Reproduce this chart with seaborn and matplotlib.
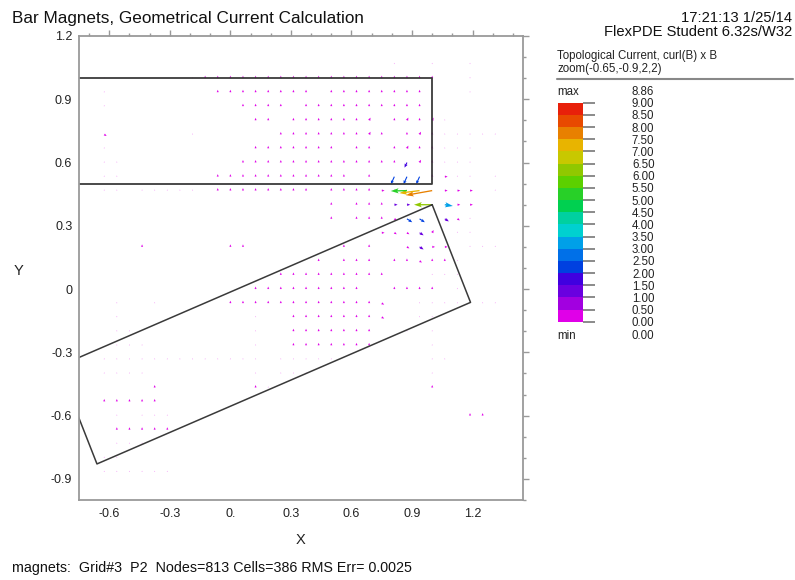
import numpy as np
import pandas as pd
import seaborn as sns
import matplotlib.pyplot as plt
from matplotlib.colors import ListedColormap, BoundaryNorm
from matplotlib.colorbar import ColorbarBase
from matplotlib.lines import Line2D
from matplotlib.ticker import FixedLocator

sns.set_style("white")
plt.rcParams['font.family'] = ['Liberation Sans', 'DejaVu Sans']

# grid columns / rows of the arrow field
col_x = [-0.625, -0.5625, -0.5, -0.4375, -0.375, -0.3125, -0.25, -0.1875, -0.125, -0.0625,
         0.0, 0.0625, 0.125, 0.1875, 0.25, 0.3125, 0.375, 0.4375, 0.5, 0.5625, 0.625,
         0.6875, 0.75, 0.8125, 0.875, 0.9375, 1.0, 1.0625, 1.125, 1.1875, 1.25, 1.3125, 1.375]
row_y = [1.067, 1.0, 0.933, 0.867, 0.8, 0.733, 0.667, 0.6, 0.533, 0.467, 0.4, 0.333, 0.267,
         0.2, 0.133, 0.067, 0.0, -0.067, -0.133, -0.2, -0.267, -0.333, -0.4, -0.467, -0.533,
         -0.6, -0.667, -0.733, -0.8, -0.867]

# one char per column ('_' = no arrow)
field_rows = [
    "_____ _____ _____ _____ ___._ _.__. ___",
    ".____ __.:: ::::: ::::: ::::: ::__. ___",
    ".____ ____: ::::: ::_:: ::::: :___. ___",
    ".____ _____ _:::: _:::: ::::: :____ ___",
    "_____ _____ __::_ ::::: :/_:/ :/.__ ___",
    "d____ __.__ ____: ::::: :/:_: /:... .._",
    ".____ _____ __::: ::::_ ::_:/ ::... ___",
    "..___ _____ _:::: ::::: ::::l /:... ___",
    "..___ ____: ::::: ::::: _:_LL L:-.. _._",
    ".._.. ..._: ::::: ::_:: ::--_ __--- _._",
    "_____ _____ _____ ___:_ :::VV ___-- ___",
    "_____ _____ _____ ___:_ :::dB B_Dd. ___",
    "_____ _____ _____ _____ __-dd D/_.. ___",
    "___:_ _____ ::___ ____: _:__d D--_. .._",
    "_____ _____ _____ __:_: ::_:: d::._ ___",
    "_____ _____ ____: ::::: :::__ _..._ ___",
    "_____ _____ __::: ::::: :__:: ::_._ ___",
    "_.__. _____ ::::: ::::: ::d__ ...._ .._",
    "_.___ _____ __.__ ::::: ::d__ ..___ ___",
    "_..__ _____ __.__ ::::: ::__. _.___ ___",
    "_..._ _____ __.__ ::::: ::___ _.___ ___",
    "..... ..... ..._. ...._ _____ _..__ ___",
    "...._ _____ __._. ..___ _____ _.___ ___",
    "____: _____ __:._ _____ _____ _:___ ___",
    "::::: _____ _____ _____ _____ _____ ___",
    "_._.. .____ _____ _____ _____ ____: :__",
    "_:::: :____ _____ _____ _____ _____ ___",
    "_..._ _____ _____ _____ _____ _____ ___",
    "..___ _____ _____ _____ _____ _____ ___",
    "..... .____ _____ _____ _____ _____ ___",
]

# char -> (u, v, magnitude)
arrow_codes = {
    '.': (0.0, 0.006, 0.1),
    ':': (0.0, 0.012, 0.2),
    '/': (0.007, 0.013, 0.4),
    'd': (0.012, -0.007, 0.4),
    '-': (0.014, 0.0, 0.4),
    'V': (0.016, 0.0, 1.2),
    'D': (0.02, -0.012, 1.4),
    'l': (-0.012, -0.024, 1.8),
    'L': (-0.017, -0.036, 2.2),
    'B': (0.026, -0.016, 2.4),
}

# the strong arrows at the gap between the magnets
big_x = [1.0, 0.9375, 0.875, 1.0, 1.0625]
big_y = [0.467, 0.467, 0.467, 0.4, 0.4]
big_u = [-0.13, -0.10, -0.08, -0.09, 0.04]
big_v = [-0.022, -0.012, -0.002, 0.0, -0.006]
big_m = [7.8, 7.0, 5.4, 6.2, 3.2]

# magnet outlines
upper_x = [-1.0, 1.0, 1.0, -1.0]
upper_y = [1.0, 1.0, 0.5, 0.5]
lower_x = [1.0, 1.19, -0.661, -0.851, 1.0]
lower_y = [0.4, -0.063, -0.829, -0.366, 0.4]

levels = [0.0, 0.5, 1.0, 1.5, 2.0, 2.5, 3.0, 3.5, 4.0, 4.5, 5.0, 5.5, 6.0, 6.5, 7.0, 7.5,
          8.0, 8.5, 9.0]
level_colors = ['#E000E8', '#A200E0', '#6A00E0', '#4000E0', '#0040E0', '#0070E8', '#00A0E8',
                '#00D0D0', '#00D0A0', '#00D050', '#28D028', '#5CD000', '#90C800', '#C8C800',
                '#E8B400', '#E88000', '#E84A00', '#E8200A']

xticks = [-0.6, -0.3, 0.0, 0.3, 0.6, 0.9, 1.2]
xtick_labels = ['-0.6', '-0.3', '0.', '0.3', '0.6', '0.9', '1.2']
yticks = [1.2, 0.9, 0.6, 0.3, 0.0, -0.3, -0.6, -0.9]
ytick_labels = ['1.2', '0.9', '0.6', '0.3', '0', '-0.3', '-0.6', '-0.9']

# build arrow table
recs = []
for y, row in zip(row_y, field_rows):
    row = row.replace(' ', '')
    assert len(row) == len(col_x), (y, len(row))
    for x, c in zip(col_x, row):
        if c == '_':
            continue
        u, v, m = arrow_codes[c]
        recs.append((x, y, u, v, m, 0.45 if c == '.' else 1.0))
df = pd.DataFrame(recs, columns=['x', 'y', 'u', 'v', 'm', 'alpha'])

cmap = ListedColormap(level_colors)
norm = BoundaryNorm(levels, cmap.N)

fig = plt.figure(figsize=(7.95, 5.8), dpi=100)
ax = fig.add_axes([79 / 795, 80 / 580, 444 / 795, 464 / 580])

# magnet outlines
sns.lineplot(x=upper_x, y=upper_y, sort=False, estimator=None, color='#3a3a3a', lw=1.3, ax=ax)
sns.lineplot(x=lower_x, y=lower_y, sort=False, estimator=None, color='#3a3a3a', lw=1.1, ax=ax)

cols = cmap(norm(df['m'].values))
cols[:, 3] = df['alpha'].values
ax.quiver(df['x'], df['y'], df['u'], df['v'], color=cols, angles='xy', scale_units='xy',
          scale=1, units='dots', width=1.1, headwidth=3, headlength=3.5, headaxislength=3,
          minlength=0.5, minshaft=1)
ax.quiver(big_x, big_y, big_u, big_v, color=cmap(norm(np.array(big_m))), angles='xy',
          scale_units='xy', scale=1, units='dots', width=1.3, headwidth=4, headlength=6,
          headaxislength=5)

ax.set_xlim(-0.75, 1.45)
ax.set_ylim(-1.0, 1.2)
ax.xaxis.set_major_locator(FixedLocator(xticks))
ax.xaxis.set_minor_locator(FixedLocator([v / 10 for v in range(-7, 15)]))
ax.yaxis.set_major_locator(FixedLocator(yticks))
ax.yaxis.set_minor_locator(FixedLocator([v / 10 for v in range(-10, 13)]))
ax.set_xticklabels(xtick_labels)
ax.set_yticklabels(ytick_labels)
ax.tick_params(which='both', direction='out', top=True, right=True, color='#999999',
               labelsize=9, labelcolor='#222222')
ax.tick_params(which='major', length=4, width=1)
ax.tick_params(which='minor', length=2.5, width=1)
ax.tick_params(axis='x', which='major', pad=2)
ax.tick_params(axis='y', which='major', pad=0.8)
for s in ax.spines.values():
    s.set_color('#9a9a9a')
    s.set_linewidth(1.3)

ax.set_xlabel('X', fontsize=10.5, color='#222222')
ax.xaxis.set_label_coords(0.498, -0.072)
ax.set_ylabel('Y', fontsize=10.5, color='#222222', rotation=0, ha='center', va='center')
ax.yaxis.set_label_coords(-0.137, 0.494)

# color bar
cax = fig.add_axes([558 / 795, 1 - 321.7 / 580, 24.5 / 795, 219 / 580])
cb = ColorbarBase(cax, cmap=cmap, norm=norm, boundaries=levels, ticks=levels)
cb.outline.set_visible(False)
cb.set_ticklabels([f'{v:.2f}' for v in levels])
cax.tick_params(length=8.6, width=1.2, color='#777777', pad=27, labelsize=8.3,
                labelcolor='#222222')

# text blocks
fig.text(12 / 795, 1 - 18 / 580, 'Bar Magnets, Geometrical Current Calculation',
         fontsize=12.3, va='center', color='#111111')
fig.text(792 / 795, 1 - 18 / 580, '17:21:13 1/25/14', fontsize=10.6, ha='right',
         va='center', color='#111111')
fig.text(792 / 795, 1 - 32 / 580, 'FlexPDE Student 6.32s/W32', fontsize=10.6, ha='right',
         va='center', color='#111111')
fig.text(557 / 795, 1 - 56 / 580, 'Topological Current, curl(B) x B', fontsize=8.3,
         va='center', color='#222222')
fig.text(557 / 795, 1 - 69 / 580, 'zoom(-0.65,-0.9,2,2)', fontsize=8.3, va='center',
         color='#222222')
fig.add_artist(Line2D([557 / 795, 793 / 795], [1 - 79 / 580, 1 - 79 / 580],
                      color='#888888', lw=1.5))
fig.text(557 / 795, 1 - 92 / 580, 'max', fontsize=8.3, va='center', color='#222222')
fig.text(632 / 795, 1 - 92 / 580, '8.86', fontsize=8.3, va='center', color='#222222')
fig.text(557 / 795, 1 - 336 / 580, 'min', fontsize=8.3, va='center', color='#222222')
fig.text(632 / 795, 1 - 336 / 580, '0.00', fontsize=8.3, va='center', color='#222222')
fig.text(12 / 795, 1 - 568 / 580,
         'magnets:  Grid#3  P2  Nodes=813 Cells=386 RMS Err= 0.0025',
         fontsize=10.3, va='center', color='#111111')

fig.savefig('out.png', dpi=100)
